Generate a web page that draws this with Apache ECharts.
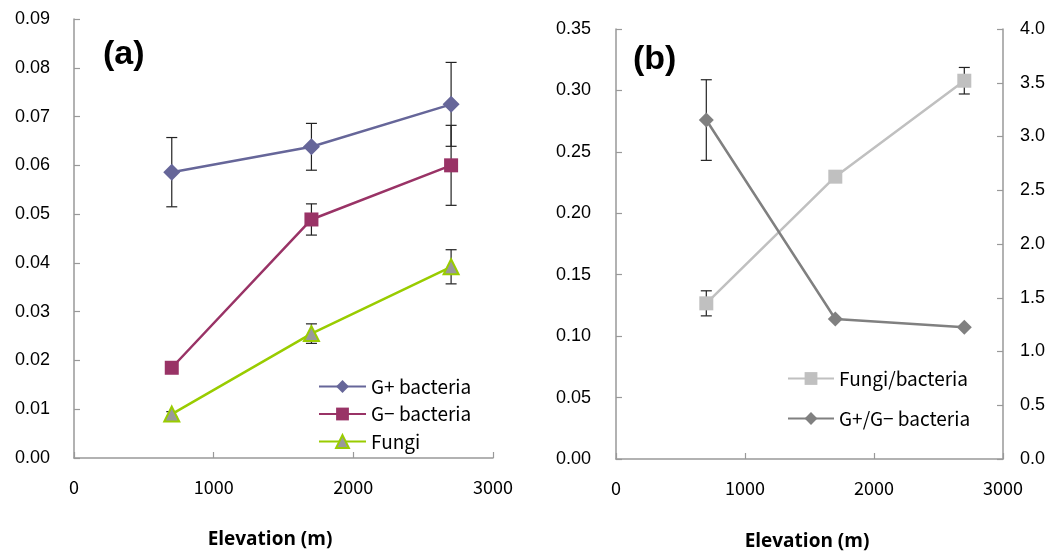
<!DOCTYPE html>
<html>
<head>
<meta charset="utf-8">
<script src="https://cdn.jsdelivr.net/npm/echarts@6/dist/echarts.min.js"></script>
<style>html,body{margin:0;padding:0;background:#fff}#c{width:1051px;height:557px}</style>
</head>
<body>
<div id="c"></div>
<script>
// Elevation (m)
const elevation = [700, 1700, 2700];
// Panel (a)
const gPos = [0.0586, 0.0638, 0.0725];
const gPosErr = [0.0071, 0.0048, 0.0086];
const gNeg = [0.0185, 0.0489, 0.0600];
const gNegErr = [0.0004, 0.0032, 0.0082];
const fungi = [0.0090, 0.0255, 0.0392];
const fungiErr = [0.0005, 0.0020, 0.0035];
// Panel (b)
const fungiBact = [0.1267, 0.2298, 0.3079];
const fungiBactErr = [0.0102, 0.0, 0.0108];
const gRatio = [3.153, 1.302, 1.225];
const gRatioErr = [0.375, 0.0, 0.0];

const xTicks = [0, 1000, 2000, 3000];

const pts = (ys) => elevation.map((x, i) => [x, ys[i]]);
const errs = (ys, es) => elevation.map((x, i) => [x, ys[i] - es[i], ys[i] + es[i]]).filter((d, i) => es[i] > 0);

function errRender(params, api) {
  const x = api.value(0);
  const lo = api.coord([x, api.value(1)]);
  const hi = api.coord([x, api.value(2)]);
  const w = 5.5;
  const st = { stroke: '#222', lineWidth: 1.2 };
  return {
    type: 'group',
    children: [
      { type: 'line', shape: { x1: lo[0], y1: lo[1], x2: hi[0], y2: hi[1] }, style: st },
      { type: 'line', shape: { x1: lo[0] - w, y1: lo[1], x2: lo[0] + w, y2: lo[1] }, style: st },
      { type: 'line', shape: { x1: hi[0] - w, y1: hi[1], x2: hi[0] + w, y2: hi[1] }, style: st }
    ]
  };
}

const tickFont = { fontFamily: 'Liberation Sans, Arial', fontSize: 18, color: '#000' };
const xLabelFont = { fontFamily: 'Noto Sans CJK JP', fontSize: 18, color: '#000' };
const axisLineStyle = { lineStyle: { color: '#999', width: 1.5 } };
const tickStyle = { show: true, inside: true, length: 6, lineStyle: { color: '#999', width: 1.2 } };

function xAxisDef(gi) {
  return {
    type: 'value', gridIndex: gi, min: xTicks[0], max: xTicks[xTicks.length - 1], interval: 1000,
    axisLine: Object.assign({ show: true }, axisLineStyle), axisTick: tickStyle, splitLine: { show: false },
    axisLabel: Object.assign({ margin: 20, formatter: v => String(v) }, xLabelFont)
  };
}

const legendText = { fontFamily: 'Noto Sans CJK JP', fontSize: 19, lineHeight: 16, color: '#000', padding: 0 };

const option = {
  animation: false,
  backgroundColor: '#fff',
  grid: [
    { left: 74, top: 19, width: 419, height: 439 },
    { left: 616, top: 29, width: 387, height: 430 }
  ],
  xAxis: [xAxisDef(0), xAxisDef(1)],
  yAxis: [
    {
      type: 'value', gridIndex: 0, min: 0, max: 0.09, interval: 0.01,
      axisLine: Object.assign({ show: true }, axisLineStyle), axisTick: tickStyle, splitLine: { show: false },
      axisLabel: Object.assign({ margin: 24, formatter: v => v.toFixed(2) }, tickFont)
    },
    {
      type: 'value', gridIndex: 1, min: 0, max: 0.35, interval: 0.05,
      axisLine: Object.assign({ show: true }, axisLineStyle), axisTick: tickStyle, splitLine: { show: false },
      axisLabel: Object.assign({ margin: 25, formatter: v => v.toFixed(2) }, tickFont)
    },
    {
      type: 'value', gridIndex: 1, position: 'right', min: 0, max: 4, interval: 0.5,
      axisLine: Object.assign({ show: true }, axisLineStyle), axisTick: tickStyle, splitLine: { show: false },
      axisLabel: Object.assign({ margin: 17, formatter: v => v.toFixed(1) }, tickFont)
    }
  ],
  legend: [
    {
      data: ['G+ bacteria', 'G− bacteria', 'Fungi'],
      orient: 'vertical', left: 318, top: 377, padding: 0, itemWidth: 47, itemHeight: 16, itemGap: 8.5,
      textStyle: legendText
    },
    {
      data: ['Fungi/bacteria', 'G+/G− bacteria'],
      orient: 'vertical', left: 787, top: 369, padding: 0, itemWidth: 46, itemHeight: 16, itemGap: 21,
      textStyle: legendText
    }
  ],
  graphic: [
    { type: 'text', x: 103, y: 55, style: { text: '(a)', font: 'bold 34px Liberation Sans, Arial', fill: '#000', verticalAlign: 'middle' } },
    { type: 'text', x: 633, y: 60, style: { text: '(b)', font: 'bold 34px Liberation Sans, Arial', fill: '#000', verticalAlign: 'middle' } },
    { type: 'text', x: 270, y: 540, style: { text: 'Elevation (m)', font: 'bold 19px Open Sans', fill: '#000', align: 'center', verticalAlign: 'middle' } },
    { type: 'text', x: 807, y: 542, style: { text: 'Elevation (m)', font: 'bold 19px Open Sans', fill: '#000', align: 'center', verticalAlign: 'middle' } }
  ],
  series: [
    { type: 'custom', xAxisIndex: 0, yAxisIndex: 0, renderItem: errRender, data: errs(gPos, gPosErr), z: 1, silent: true },
    { type: 'custom', xAxisIndex: 0, yAxisIndex: 0, renderItem: errRender, data: errs(gNeg, gNegErr), z: 1, silent: true },
    { type: 'custom', xAxisIndex: 0, yAxisIndex: 0, renderItem: errRender, data: errs(fungi, fungiErr), z: 1, silent: true },
    { type: 'custom', xAxisIndex: 1, yAxisIndex: 1, renderItem: errRender, data: errs(fungiBact, fungiBactErr), z: 1, silent: true },
    { type: 'custom', xAxisIndex: 1, yAxisIndex: 2, renderItem: errRender, data: errs(gRatio, gRatioErr), z: 1, silent: true },
    {
      name: 'G+ bacteria', type: 'line', xAxisIndex: 0, yAxisIndex: 0, data: pts(gPos), z: 3,
      symbol: 'diamond', symbolSize: 17,
      lineStyle: { color: '#666699', width: 2.5 }, itemStyle: { color: '#666699' }
    },
    {
      name: 'G− bacteria', type: 'line', xAxisIndex: 0, yAxisIndex: 0, data: pts(gNeg), z: 3,
      symbol: 'rect', symbolSize: 14,
      lineStyle: { color: '#993366', width: 2.5 }, itemStyle: { color: '#993366' }
    },
    {
      name: 'Fungi', type: 'line', xAxisIndex: 0, yAxisIndex: 0, data: pts(fungi), z: 3,
      symbol: 'triangle', symbolSize: 15,
      lineStyle: { color: '#99cc00', width: 2.5 }, itemStyle: { color: '#999999', borderColor: '#99cc00', borderWidth: 2 }
    },
    {
      name: 'Fungi/bacteria', type: 'line', xAxisIndex: 1, yAxisIndex: 1, data: pts(fungiBact), z: 3,
      symbol: 'rect', symbolSize: 14,
      lineStyle: { color: '#c0c0c0', width: 2.5 }, itemStyle: { color: '#c0c0c0' }
    },
    {
      name: 'G+/G− bacteria', type: 'line', xAxisIndex: 1, yAxisIndex: 2, data: pts(gRatio), z: 3,
      symbol: 'diamond', symbolSize: 15,
      lineStyle: { color: '#808080', width: 2.5 }, itemStyle: { color: '#808080' }
    }
  ]
};

const chart = echarts.init(document.getElementById('c'), null, { renderer: 'canvas' });
chart.setOption(option);
</script>
</body>
</html>
